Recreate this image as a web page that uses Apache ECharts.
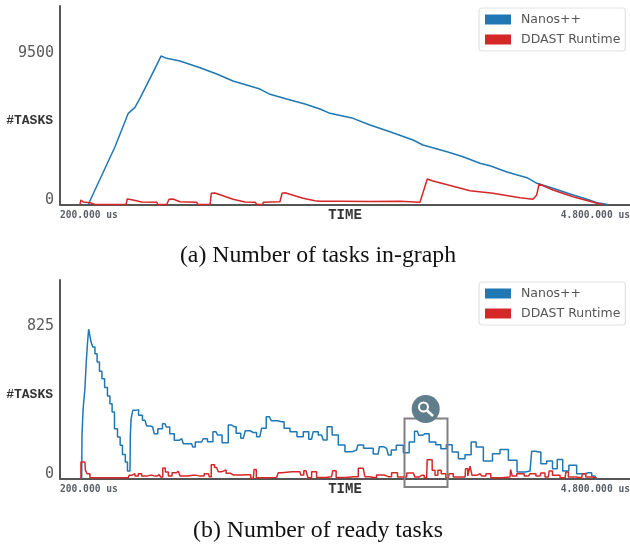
<!DOCTYPE html>
<html>
<head>
<meta charset="utf-8">
<style>html,body{margin:0;padding:0;background:#fff}#c{width:630px;height:544px}</style>
<script src="https://cdn.jsdelivr.net/npm/echarts@6/dist/echarts.min.js"></script>
</head>
<body>
<div id="c"></div>
<script>
const seriesNames = ['Nanos++', 'DDAST Runtime'];
const xTickValues = [200, 4800];
const xTickLabels = ['200.000 us', '4.800.000 us'];
const yTicksGraph = [0, 9500];
const yTicksReady = [0, 825];
const captions = ['(a) Number of tasks in-graph', '(b) Number of ready tasks'];

// time (ms), number of tasks
const graphNanos = [[428,0],[644,3624],[751,5718],[805,6094],[846,6677],[980,8746],[1015,9310],[1061,9166],[1168,8997],[1330,8577],[1465,8182],[1596,7743],[1814,7241],[1895,6909],[2029,6614],[2177,6301],[2298,5987],[2379,5718],[2565,5404],[2702,4984],[2863,4564],[3049,4044],[3129,3730],[3323,3310],[3452,2997],[3589,2583],[3670,2433],[3807,2038],[3969,1680],[4049,1329],[4179,1016],[4316,658],[4453,326],[4534,113],[4622,0]];
const graphDdast = [[361,0],[369,282],[388,157],[442,113],[482,0],[733,0],[743,345],[789,282],[859,157],[983,138],[987,0],[1061,0],[1080,326],[1112,345],[1168,176],[1303,138],[1314,0],[1411,0],[1421,702],[1451,721],[1596,326],[1693,157],[1774,138],[1790,0],[1836,0],[1841,138],[1975,176],[1992,702],[2016,740],[2161,389],[2258,238],[2298,201],[2460,207],[2702,188],[2944,200],[3105,138],[3119,157],[3164,1599],[3210,1473],[3509,865],[3694,702],[3912,426],[4017,326],[4047,596],[4066,1285],[4179,909],[4340,489],[4534,75],[4582,0]];
const readyNanos = [[375,0],[380,234],[393,378],[409,486],[415,630],[428,729],[434,807],[447,801],[455,738],[474,711],[490,675],[509,630],[528,580],[549,540],[571,492],[595,447],[611,405],[630,360],[649,270],[679,225],[692,180],[716,131],[738,90],[751,41],[765,41],[770,234],[778,324],[797,369],[824,373],[845,342],[886,315],[913,285],[948,279],[972,243],[1007,270],[1047,297],[1069,279],[1102,243],[1142,207],[1182,216],[1209,189],[1262,189],[1281,171],[1303,198],[1343,198],[1370,216],[1410,200],[1458,254],[1485,236],[1531,194],[1585,290],[1604,281],[1639,245],[1679,218],[1711,259],[1760,249],[1813,227],[1840,272],[1889,335],[1921,313],[1988,308],[2029,272],[2083,254],[2142,227],[2185,254],[2230,213],[2257,254],[2311,236],[2338,209],[2373,281],[2419,236],[2473,182],[2526,146],[2594,155],[2612,182],[2688,164],[2768,133],[2787,173],[2836,164],[2863,128],[2884,155],[2944,180],[2998,140],[3038,198],[3084,256],[3105,234],[3146,243],[3213,198],[3253,184],[3294,162],[3342,184],[3388,144],[3442,108],[3495,130],[3541,198],[3576,171],[3657,95],[3724,135],[3778,158],[3859,99],[3918,36],[3993,41],[4020,148],[4060,144],[4101,81],[4154,95],[4195,54],[4230,104],[4284,41],[4329,72],[4410,27],[4464,32],[4518,14],[4536,0]];
const readyDdast = [[369,0],[369,90],[401,90],[409,45],[428,27],[455,5],[751,5],[765,18],[792,27],[818,14],[845,27],[872,14],[926,18],[966,14],[1002,22],[1020,9],[1039,58],[1061,36],[1088,14],[1120,32],[1155,40],[1182,14],[1276,18],[1330,14],[1397,27],[1410,11],[1431,76],[1464,61],[1491,38],[1523,47],[1558,29],[1598,20],[1719,22],[1760,2],[1773,50],[1795,5],[1948,7],[1975,32],[2007,38],[2136,38],[2150,20],[2185,43],[2217,5],[2244,38],[2298,7],[2392,11],[2411,43],[2446,7],[2567,11],[2647,56],[2674,11],[2728,7],[2782,20],[2849,11],[2903,32],[2944,9],[3052,31],[3073,9],[3119,18],[3159,5],[3167,103],[3194,103],[3213,45],[3240,18],[3259,45],[3294,27],[3334,5],[3347,27],[3401,9],[3469,9],[3477,54],[3504,14],[3514,68],[3536,18],[3590,27],[3617,14],[3657,27],[3697,5],[3832,9],[3840,50],[3859,14],[3912,27],[3980,14],[4007,27],[4074,14],[4087,31],[4141,9],[4154,41],[4195,18],[4276,5],[4289,36],[4316,9],[4410,5],[4423,27],[4464,9],[4531,4]];

const BLUE = '#1f77b4', RED = '#d62728', AXIS = '#555555';

function xAxis(i) {
  return {
    gridIndex: i, type: 'value', min: 200, max: 4800,
    splitLine: {show: false}, axisTick: {show: false},
    axisLine: {show: true, onZero: false, lineStyle: {color: AXIS, width: 2}},
    axisLabel: {
      show: true, customValues: xTickValues, margin: 6,
      alignMinLabel: 'left', alignMaxLabel: 'right',
      fontFamily: 'DejaVu Sans Mono', fontSize: 9.6, fontWeight: 'bold', color: '#5a5f66',
      formatter: v => xTickLabels[xTickValues.indexOf(v)]
    },
    name: 'TIME', nameLocation: 'middle', nameGap: 4, nameMoveOverlap: false,
    nameTextStyle: {fontFamily: 'Liberation Mono', fontSize: 14, fontWeight: 'bold', color: '#333', verticalAlign: 'top', padding: 0}
  };
}
function yAxis(i, max, ticks) {
  return {
    gridIndex: i, type: 'value', min: 0, max: max,
    splitLine: {show: false}, axisTick: {show: false},
    axisLine: {show: true, onZero: false, lineStyle: {color: AXIS, width: 2}},
    axisLabel: {
      show: true, customValues: ticks, margin: 6, verticalAlignMinLabel: 'bottom',
      fontFamily: 'DejaVu Sans Mono', fontSize: 15, lineHeight: 9, color: '#5a5a5a', padding: [3, 0, 0, 0],
      formatter: v => String(v)
    },
    name: '#TASKS', nameLocation: 'middle', nameRotate: 0, nameGap: 7, nameMoveOverlap: false,
    nameTextStyle: {fontFamily: 'Liberation Mono', fontSize: 13, fontWeight: 'bold', color: '#333',
      align: 'right', verticalAlign: 'top', padding: [9, 0, 0, 0]}
  };
}
function line(name, i, data, color, step) {
  return {
    name, type: 'line', xAxisIndex: i, yAxisIndex: i, data, step,
    showSymbol: false, symbol: 'none', clip: false, animation: false,
    lineStyle: {color, width: 1.5}, itemStyle: {color}
  };
}
function legend(top) {
  return {
    left: 479, top, orient: 'vertical', icon: 'rect', selectedMode: false,
    data: seriesNames, itemWidth: 26, itemHeight: 10, itemGap: 7,
    padding: [5, 5, 5, 6], backgroundColor: '#fff', borderColor: '#e2e2e2', borderWidth: 1.2, borderRadius: 3,
    textStyle: {fontFamily: 'DejaVu Sans', fontSize: 12.5, color: '#555', padding: [0, 0, 0, 5]}
  };
}
function caption(text, top) {
  return {text, left: 313, textAlign: 'center', top,
    textStyle: {fontFamily: 'Liberation Serif', fontSize: 23.8, fontWeight: 'normal', color: '#111'}};
}

const chart = echarts.init(document.getElementById('c'), null, {renderer: 'canvas'});
chart.setOption({
  animation: false,
  backgroundColor: '#fff',
  title: [caption(captions[0], 239), caption(captions[1], 514)],
  legend: [legend(8), legend(282)],
  grid: [
    {left: 60, width: 570, top: 6, height: 198.5, outerBoundsMode: 'none'},
    {left: 60, width: 570, top: 280, height: 198.7, outerBoundsMode: 'none'}
  ],
  xAxis: [xAxis(0), xAxis(1)],
  yAxis: [yAxis(0, 12450, yTicksGraph), yAxis(1, 1073, yTicksReady)],
  series: [
    line(seriesNames[0], 0, graphNanos, BLUE, false),
    line(seriesNames[1], 0, graphDdast, RED, false),
    line(seriesNames[0], 1, readyNanos, BLUE, 'middle'),
    line(seriesNames[1], 1, readyDdast, RED, 'middle')
  ],
  graphic: [
    {type: 'rect', z: 50, shape: {x: 404.5, y: 418.5, width: 43, height: 68.5},
      style: {fill: 'transparent', stroke: '#808080', lineWidth: 2}},
    {type: 'circle', z: 51, shape: {cx: 425.7, cy: 409, r: 14}, style: {fill: '#607d8b'}},
    {type: 'circle', z: 52, shape: {cx: 423.5, cy: 407, r: 4.5}, style: {fill: 'transparent', stroke: '#fff', lineWidth: 2}},
    {type: 'line', z: 52, shape: {x1: 427, y1: 410.5, x2: 433, y2: 416}, style: {stroke: '#fff', lineWidth: 2.5}}
  ]
});
</script>
</body>
</html>
